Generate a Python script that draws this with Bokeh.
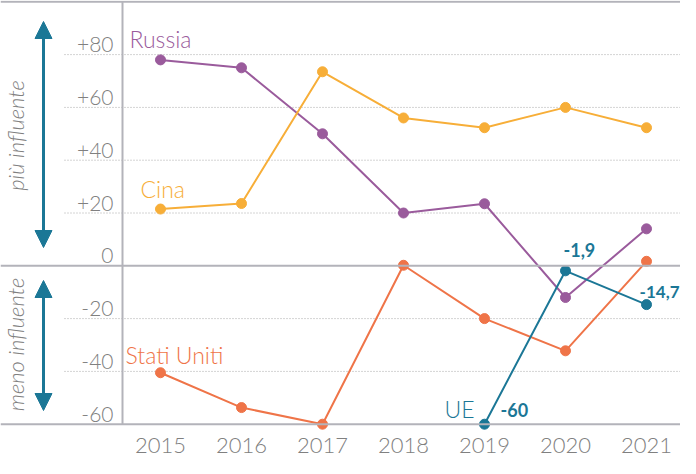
from bokeh.plotting import figure
from bokeh.models import Range1d, Span, Arrow, NormalHead
from bokeh.core.properties import value
from bokeh.embed import file_html
from bokeh.resources import INLINE

years = [2015, 2016, 2017, 2018, 2019, 2020, 2021]
russia = [78, 75, 50, 20, 23.5, -12, 14]
cina = [21.5, 23.6, 73.5, 56, 52.3, 60, 52.3]
usa = [-40.5, -53.7, -60, 0.2, -20, -32.2, 1.7]
ue_years = [2019, 2020, 2021]
ue = [-60, -1.9, -14.7]
ue_labels = ["-60", "-1,9", "-14,7"]
tick_vals = [80, 60, 40, 20, 0, -20, -40, -60]
tick_labels = ["+80", "+60", "+40", "+20", "0", "-20", "-40", "-60"]
year_labels = [str(y) for y in years]

PURPLE = "#9A5B9C"
YELLOW = "#F7AE38"
ORANGE = "#EF7448"
TEAL = "#1B7796"
GRAY = "#B3B3BA"
TXT = "#808080"
FONT = value("Lato Light")
BFONT = value("Lato")

W, H = 680, 458
px_year = 81.0
px_unit = 2.64
x0 = 2015 - (168 - 8) / px_year
x1 = x0 + W / px_year
ytop = (273.3 - 8) / px_unit
ybot = ytop - H / px_unit

p = figure(width=W, height=H, output_backend="svg", toolbar_location=None,
           x_range=Range1d(x0, x1), y_range=Range1d(ybot, ytop), min_border=0)
p.xaxis.visible = False
p.yaxis.visible = False
p.xgrid.visible = False
p.ygrid.visible = False
p.outline_line_color = None
p.background_fill_color = "white"
p.border_fill_color = "white"

# dotted grid
grid_vals = [v for v in tick_vals if v not in (0, -60)]
gx0 = 2015 - (168 - 72) / px_year
p.segment(x0=[gx0] * len(grid_vals), x1=[x1] * len(grid_vals), y0=grid_vals, y1=grid_vals,
          line_color="#A8A8A8", line_width=1, line_dash="1 2")

# solid lines
for yv in (100, 0, -60):
    p.add_layout(Span(location=yv, dimension="width", line_color=GRAY, line_width=2))
vx = 2015 - (168 - 130) / px_year
p.segment(x0=[vx], x1=[vx], y0=[-60], y1=[100], line_color=GRAY, line_width=2)

# tick labels
tx = 2015 - (168 - 121) / px_year
p.text(x=[tx] * len(tick_vals), y=tick_vals, text=tick_labels, text_align="right",
       text_baseline="middle", y_offset=-10, text_font=FONT, text_font_size="21px",
       text_color=TXT)

# year labels
p.text(x=years, y=[ybot] * len(years), text=year_labels, text_align="center",
       text_baseline="middle", y_offset=-13, text_font=FONT, text_font_size="22px",
       text_color=TXT)

# arrows
ax = 2015 - (168 - 51) / px_year
for ya, yb in (((273.3 - 255) / px_unit, (273.3 - 29) / px_unit),
               ((273.3 - 418) / px_unit, (273.3 - 288) / px_unit)):
    p.add_layout(Arrow(x_start=ax, y_start=ya, x_end=ax, y_end=yb,
                       start=NormalHead(size=17, fill_color=TEAL, line_color=TEAL),
                       end=NormalHead(size=17, fill_color=TEAL, line_color=TEAL),
                       line_color=TEAL, line_width=3))

# rotated side labels
rx = 2015 - (168 - 23) / px_year
p.text(x=[rx], y=[(273.3 - 143) / px_unit], text=["più influente"], angle=1.5708,
       text_align="center", text_baseline="middle", text_font=FONT,
       text_font_style="italic", text_font_size="22px", text_color=TXT)
p.text(x=[rx], y=[(273.3 - 352) / px_unit], text=["meno influente"], angle=1.5708,
       text_align="center", text_baseline="middle", text_font=FONT,
       text_font_style="italic", text_font_size="22px", text_color=TXT)

# series
for ys, col in ((russia, PURPLE), (cina, YELLOW), (usa, ORANGE)):
    p.line(years, ys, line_color=col, line_width=2)
    p.scatter(years, ys, size=10, fill_color=col, line_color=col)
p.line(ue_years, ue, line_color=TEAL, line_width=2)
p.scatter(ue_years, ue, size=10, fill_color=TEAL, line_color=TEAL)

# series labels
p.text(x=[years[0]], y=[russia[0]], text=["Russia"], x_offset=-31, y_offset=-21,
       text_font=FONT, text_font_size="23px", text_color=PURPLE, text_baseline="middle")
p.text(x=[years[0]], y=[cina[0]], text=["Cina"], x_offset=-20, y_offset=-20,
       text_font=FONT, text_font_size="23px", text_color=YELLOW, text_baseline="middle")
p.text(x=[years[0]], y=[usa[0]], text=["Stati Uniti"], x_offset=-35, y_offset=-18,
       text_font=FONT, text_font_size="23px", text_color=ORANGE, text_baseline="middle")
p.text(x=[ue_years[0]], y=[ue[0]], text=["UE"], x_offset=-40, y_offset=-15,
       text_font=FONT, text_font_size="23px", text_color=TEAL, text_baseline="middle")

# value labels
p.text(x=ue_years[:2], y=ue[:2], text=ue_labels[:2], x_offset=[16, -2], y_offset=[-14, -21],
       text_font=BFONT, text_font_style="bold", text_font_size="18px", text_color=TEAL,
       text_baseline="middle")
p.text(x=ue_years[2:], y=ue[2:], text=ue_labels[2:], x_offset=33, y_offset=-13,
       text_align="right", text_font=BFONT, text_font_style="bold", text_font_size="17px",
       text_color=TEAL, text_baseline="middle")

open("out.html", "w").write(file_html(p, INLINE))
